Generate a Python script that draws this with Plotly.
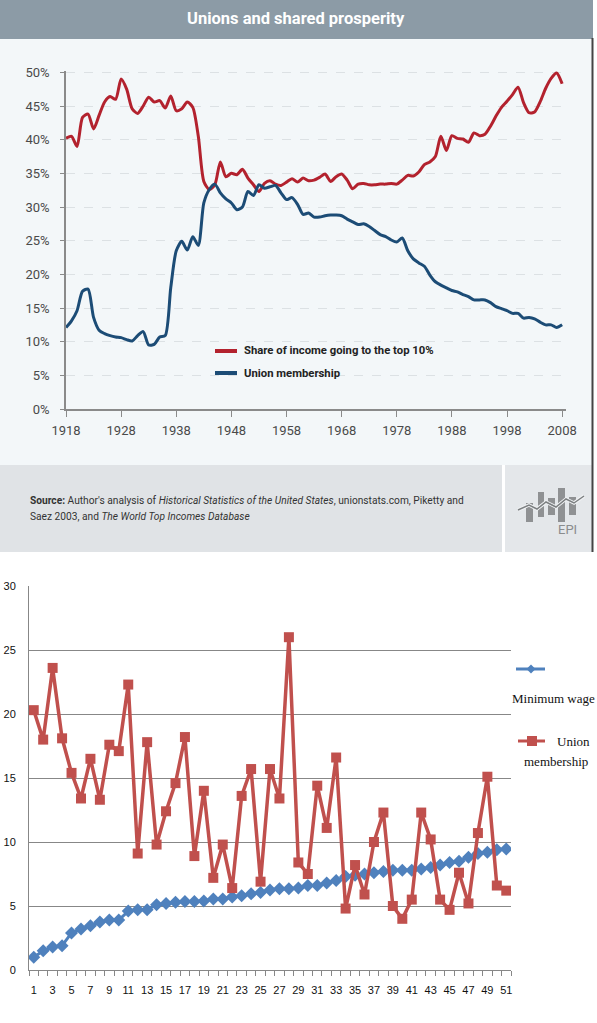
import plotly.graph_objects as go

# ---------------- top chart data ----------------
years = list(range(1918, 2009))
top10_share = [40.2, 40.5, 39.0, 43.3, 43.8, 41.6, 43.6, 45.6, 46.4, 46.0,
               49.0, 47.5, 44.6, 43.9, 45.0, 46.3, 45.6, 45.8, 44.7, 46.5,
               44.3, 44.6, 45.6, 44.8, 40.5, 33.8, 32.6, 33.3, 36.7, 34.5,
               35.0, 34.8, 35.6, 34.3, 33.3, 32.3, 33.5, 33.9, 33.4, 33.2,
               33.7, 34.2, 33.7, 34.3, 33.9, 34.0, 34.4, 34.9, 33.8, 34.5,
               34.9, 34.0, 32.7, 33.4, 33.5, 33.3, 33.3, 33.4, 33.4, 33.5,
               33.4, 34.0, 34.7, 34.6, 35.2, 36.3, 36.7, 37.5, 40.5, 38.4,
               40.6, 40.2, 40.1, 39.6, 41.0, 40.6, 40.8, 42.0, 43.5, 44.8,
               45.7, 46.7, 47.8, 45.5, 44.0, 44.1, 45.6, 47.6, 49.1, 49.9,
               48.3]
union_share = [12.1, 13.1, 14.6, 17.5, 17.8, 13.6, 11.7, 11.2, 10.9, 10.7,
               10.6, 10.3, 10.1, 10.9, 11.5, 9.5, 9.6, 10.7, 10.9, 18.0,
               23.5, 24.9, 23.6, 25.6, 24.3, 30.6, 32.6, 33.4, 32.1, 31.2,
               30.6, 29.6, 30.0, 32.3, 31.7, 33.3, 32.8, 33.0, 33.2, 32.1,
               31.1, 31.4, 30.4, 28.9, 29.1, 28.5, 28.5, 28.7, 28.8, 28.8,
               28.7, 28.2, 27.8, 27.4, 27.5, 27.1, 26.5, 25.9, 25.6, 25.1,
               24.8, 25.4, 23.5, 22.3, 21.7, 21.2, 19.9, 18.9, 18.4, 18.0,
               17.6, 17.4, 17.0, 16.7, 16.2, 16.2, 16.2, 15.8, 15.2, 14.9,
               14.6, 14.2, 14.2, 13.5, 13.6, 13.4, 12.9, 12.5, 12.5, 12.1,
               12.5]
top_xticks = list(range(1918, 2009, 10))
top_yticks = list(range(0, 51, 5))
top_ytick_labels = [f"{v}%" for v in top_yticks]

# ---------------- bottom chart data ----------------
idx = list(range(1, 52))
minimum_wage = [1.0, 1.5, 1.8, 1.9, 2.9, 3.2, 3.45, 3.75, 3.9, 3.9,
                4.6, 4.7, 4.7, 5.1, 5.2, 5.3, 5.35, 5.35, 5.4, 5.55,
                5.55, 5.7, 5.8, 5.95, 6.05, 6.25, 6.35, 6.35, 6.4, 6.6,
                6.6, 6.8, 7.0, 7.3, 7.4, 7.5, 7.6, 7.7, 7.8, 7.8,
                7.8, 7.9, 8.0, 8.2, 8.4, 8.5, 8.8, 9.1, 9.2, 9.4,
                9.45]
union_membership = [20.3, 18.0, 23.6, 18.1, 15.4, 13.4, 16.5, 13.3, 17.6, 17.1,
                    22.3, 9.1, 17.8, 9.8, 12.4, 14.6, 18.2, 8.9, 14.0, 7.2,
                    9.8, 6.4, 13.6, 15.7, 6.9, 15.7, 13.4, 26.0, 8.4, 7.5,
                    14.4, 11.1, 16.6, 4.8, 8.2, 5.9, 10.0, 12.3, 5.0, 4.0,
                    5.5, 12.3, 10.2, 5.5, 4.7, 7.6, 5.2, 10.7, 15.1, 6.6,
                    6.2]
bottom_xticks = list(range(1, 52, 2))
bottom_yticks = list(range(0, 31, 5))

W, H = 597, 1023
def px(x):
    return x / W
def py(y):
    return 1 - y / H

RED = "#b3222e"
BLUE = "#1c4c76"
XL_BLUE = "#4f81bd"
XL_RED = "#c0504d"

fig = go.Figure()

fig.add_trace(go.Scatter(x=years, y=top10_share, mode="lines",
                         line=dict(color=RED, width=3, shape="spline", smoothing=0.7),
                         name="Share of income going to the top 10%",
                         xaxis="x", yaxis="y", showlegend=False, hoverinfo="skip"))
fig.add_trace(go.Scatter(x=years, y=union_share, mode="lines",
                         line=dict(color=BLUE, width=3, shape="spline", smoothing=0.7),
                         name="Union membership",
                         xaxis="x", yaxis="y", showlegend=False, hoverinfo="skip"))

fig.add_trace(go.Scatter(x=idx, y=minimum_wage, mode="lines+markers",
                         line=dict(color=XL_BLUE, width=3),
                         marker=dict(symbol="diamond", size=10, color=XL_BLUE),
                         name="Minimum wage", xaxis="x2", yaxis="y2", showlegend=False))
fig.add_trace(go.Scatter(x=idx, y=union_membership, mode="lines+markers",
                         line=dict(color=XL_RED, width=3.5),
                         marker=dict(symbol="square", size=10, color=XL_RED),
                         name="Union membership", xaxis="x2", yaxis="y2", showlegend=False))

shapes = []
# top panel backgrounds
shapes.append(dict(type="rect", xref="paper", yref="paper", x0=px(0), x1=px(593),
                   y0=py(465), y1=py(38), fillcolor="#f3f7f9", line=dict(width=0), layer="below"))
shapes.append(dict(type="rect", xref="paper", yref="paper", x0=px(0), x1=px(593),
                   y0=py(39), y1=py(0), fillcolor="#8c9ba6", line=dict(width=0), layer="below"))
shapes.append(dict(type="rect", xref="paper", yref="paper", x0=px(0), x1=px(502),
                   y0=py(552), y1=py(465), fillcolor="#e0e3e6", line=dict(width=0), layer="below"))
shapes.append(dict(type="rect", xref="paper", yref="paper", x0=px(505), x1=px(592),
                   y0=py(552), y1=py(465), fillcolor="#e4e7ea", line=dict(width=0), layer="below"))
shapes.append(dict(type="line", xref="paper", yref="paper", x0=px(592.5), x1=px(592.5),
                   y0=py(552), y1=py(38), line=dict(color="#444444", width=2), layer="above"))
# EPI logo
logo_bars = [(526, 533, 503, 522), (538, 544, 492, 517), (548, 555, 498, 515),
             (558, 565, 488, 522), (569, 576, 497, 515)]
for x0, x1, y0, y1 in logo_bars:
    shapes.append(dict(type="rect", xref="paper", yref="paper", x0=px(x0), x1=px(x1),
                       y0=py(y1), y1=py(y0), fillcolor="#8f9193", line=dict(width=0), layer="above"))
wave = [(518, 510), (529, 505), (537, 509), (546, 502), (556, 507), (566, 499), (574, 503), (584, 496)]
path = "M " + " L ".join(f"{px(a)},{py(b)}" for a, b in wave)
shapes.append(dict(type="path", xref="paper", yref="paper", path=path,
                   line=dict(color="#f0f2f4", width=3.5), layer="above"))
shapes.append(dict(type="path", xref="paper", yref="paper", path=path,
                   line=dict(color="#7d8082", width=1.5), layer="above"))

# top legend samples
shapes.append(dict(type="line", xref="paper", yref="paper", x0=px(215), x1=px(237),
                   y0=py(351), y1=py(351), line=dict(color=RED, width=4)))
shapes.append(dict(type="line", xref="paper", yref="paper", x0=px(215), x1=px(237),
                   y0=py(373), y1=py(373), line=dict(color=BLUE, width=4)))

# bottom legend samples
shapes.append(dict(type="line", xref="paper", yref="paper", x0=px(516), x1=px(545),
                   y0=py(669), y1=py(669), line=dict(color=XL_BLUE, width=3)))
dc, dy, r = 531, 669, 4.5
shapes.append(dict(type="path", xref="paper", yref="paper",
                   path=f"M {px(dc - r)},{py(dy)} L {px(dc)},{py(dy - r)} L {px(dc + r)},{py(dy)} L {px(dc)},{py(dy + r)} Z",
                   fillcolor=XL_BLUE, line=dict(width=0)))
shapes.append(dict(type="line", xref="paper", yref="paper", x0=px(518), x1=px(545),
                   y0=py(741), y1=py(741), line=dict(color=XL_RED, width=3)))
shapes.append(dict(type="rect", xref="paper", yref="paper", x0=px(527), x1=px(537),
                   y0=py(746), y1=py(736), fillcolor=XL_RED, line=dict(width=0)))

annotations = [
    dict(text="<b>Unions and shared prosperity</b>", x=px(296), y=py(19), xref="paper", yref="paper",
         showarrow=False, font=dict(family="Roboto", size=16.5, color="white"), xanchor="center", yanchor="middle"),
    dict(text="<b>Share of income going to the top 10%</b>", x=px(242), y=py(351), xref="paper", yref="paper",
         showarrow=False, font=dict(family="Roboto", size=11.3, color="#222222"), xanchor="left", yanchor="middle"),
    dict(text="<b>Union membership</b>", x=px(242), y=py(373), xref="paper", yref="paper",
         showarrow=False, font=dict(family="Roboto", size=11.3, color="#222222"), xanchor="left", yanchor="middle"),
    dict(text="<b>Source:</b> Author's analysis of <i>Historical Statistics of the United States</i>, unionstats.com, Piketty and",
         x=px(28), y=py(500), xref="paper", yref="paper", showarrow=False,
         font=dict(family="Roboto", size=10.2, color="#333333"), xanchor="left", yanchor="middle"),
    dict(text="Saez 2003, and <i>The World Top Incomes Database</i>",
         x=px(28), y=py(516), xref="paper", yref="paper", showarrow=False,
         font=dict(family="Roboto", size=10.2, color="#333333"), xanchor="left", yanchor="middle"),
    dict(text="EPI", x=px(567), y=py(529), xref="paper", yref="paper", showarrow=False,
         font=dict(family="Roboto", size=13, color="#8a8c8e"), xanchor="center", yanchor="middle"),
    dict(text="Minimum wage", x=px(553), y=py(698), xref="paper", yref="paper", showarrow=False,
         font=dict(family="Liberation Serif", size=13, color="#111111"), xanchor="center", yanchor="middle"),
    dict(text="Union", x=px(573), y=py(741), xref="paper", yref="paper", showarrow=False,
         font=dict(family="Liberation Serif", size=13, color="#111111"), xanchor="center", yanchor="middle"),
    dict(text="membership", x=px(556), y=py(761), xref="paper", yref="paper", showarrow=False,
         font=dict(family="Liberation Serif", size=13, color="#111111"), xanchor="center", yanchor="middle"),
]

fig.update_layout(
    width=W, height=H, margin=dict(l=0, r=0, t=0, b=0, autoexpand=False),
    paper_bgcolor="white", plot_bgcolor="rgba(0,0,0,0)",
    shapes=shapes, annotations=annotations, showlegend=False,
    xaxis=dict(domain=[px(66), px(566)], range=[1918, 2008.7], tickvals=top_xticks,
               showline=True, linecolor="#8a8a8a", linewidth=1.5, ticks="outside", ticklen=6,
               tickcolor="#8a8a8a", showgrid=False, zeroline=False, anchor="y", automargin=False,
               tickfont=dict(family="Roboto", size=13, color="#4a4a4a"), ticklabelstandoff=3),
    yaxis=dict(domain=[py(409), py(71)], range=[0, 50.2], tickvals=top_yticks, ticktext=top_ytick_labels,
               showline=True, linecolor="#8a8a8a", linewidth=1.5, ticks="outside", ticklen=4,
               tickcolor="#8a8a8a", showgrid=True, gridcolor="#dce1e4", griddash="dash",
               zeroline=False, anchor="x", automargin=False,
               tickfont=dict(family="Roboto", size=13, color="#4a4a4a"), ticklabelstandoff=8),
    xaxis2=dict(domain=[px(29), px(511)], range=[0.5, 51.5], tickvals=bottom_xticks,
                showline=True, linecolor="#878787", linewidth=1, ticks="", showgrid=False,
                zeroline=False, anchor="y2", automargin=False,
                minor=dict(tickmode="array", tickvals=[i + 0.5 for i in range(0, 52)],
                           ticks="outside", ticklen=5, tickcolor="#878787", showgrid=False),
                tickfont=dict(family="Liberation Sans", size=11, color="#111111"), ticklabelstandoff=10),
    yaxis2=dict(domain=[py(970), py(586)], range=[0, 30], tickvals=bottom_yticks,
                showline=True, linecolor="#878787", linewidth=1, ticks="", showgrid=True,
                gridcolor="#878787", gridwidth=1, zeroline=False, anchor="x2", automargin=False,
                tickfont=dict(family="Liberation Sans", size=11, color="#111111"), ticklabelstandoff=10),
)

fig.write_html("out.html", config={"displayModeBar": False},
               post_script="document.body.style.margin='0';document.body.style.overflow='hidden';")
